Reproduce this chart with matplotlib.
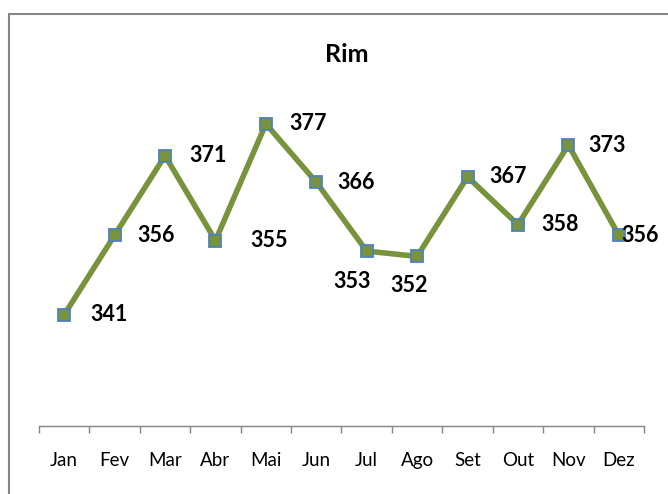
import matplotlib
matplotlib.use('Agg')
import matplotlib.pyplot as plt
from matplotlib.patches import Rectangle

plt.rcParams['font.family'] = ['Lato', 'DejaVu Sans']

months = ['Jan', 'Fev', 'Mar', 'Abr', 'Mai', 'Jun', 'Jul', 'Ago', 'Set', 'Out', 'Nov', 'Dez']
values = [341, 356, 371, 355, 377, 366, 353, 352, 367, 358, 373, 356]
title = 'Rim'

# label offsets in pixels (dx, dy), dx is the left edge of the text
label_offsets = [(26, 0), (23, 0), (24, 0), (35, 0), (23, 0), (21, 0),
                 (-33, -30), (-27, -29), (22, 0), (23, 0), (20, 0), (3, 0)]

DPI = 100
W, H = 668, 494
fig = plt.figure(figsize=(W / DPI, H / DPI), dpi=DPI)
# chart border (runs off the right and bottom edges in the original)
fig.patches.append(Rectangle((9 / W, -0.05), 1.0, 1.05 - 14 / H, transform=fig.transFigure,
                             fill=False, edgecolor='#868686', linewidth=1.5))

ax = fig.add_axes([39 / W, 68 / H, 605 / W, 318 / H])
x = list(range(len(months)))
ax.plot(x, values, color='#77933C', linewidth=4.0, marker='s', markersize=8.5,
        markerfacecolor='#77933C', markeredgecolor='#4F81BD', markeredgewidth=1.3,
        solid_joinstyle='miter', zorder=3)

px = 72.0 / DPI
for xi, v, (dx, dy) in zip(x, values, label_offsets):
    ax.annotate(str(v), (xi, v), xytext=(dx * px, dy * px), textcoords='offset points',
                ha='left', va='center', fontsize=15.5, fontweight='bold', color='black',
                annotation_clip=False)

ax.set_xlim(-0.5, len(months) - 0.5)
ax.set_ylim(320, 380)
ax.set_xticks(x)
ax.set_xticklabels(months, fontsize=13.5)
ax.set_xticks([i - 0.5 for i in range(len(months) + 1)], minor=True)
ax.tick_params(axis='x', which='major', length=0, pad=19)
ax.tick_params(axis='x', which='minor', length=5, width=1, color='#868686')
ax.set_yticks([])
for side in ['left', 'right', 'top']:
    ax.spines[side].set_visible(False)
ax.spines['bottom'].set_color('#868686')
ax.spines['bottom'].set_linewidth(1)

fig.text(347 / W, 1 - 54 / H, title, ha='center', va='center', fontsize=18, fontweight='bold')

fig.savefig('out.png', dpi=DPI)
